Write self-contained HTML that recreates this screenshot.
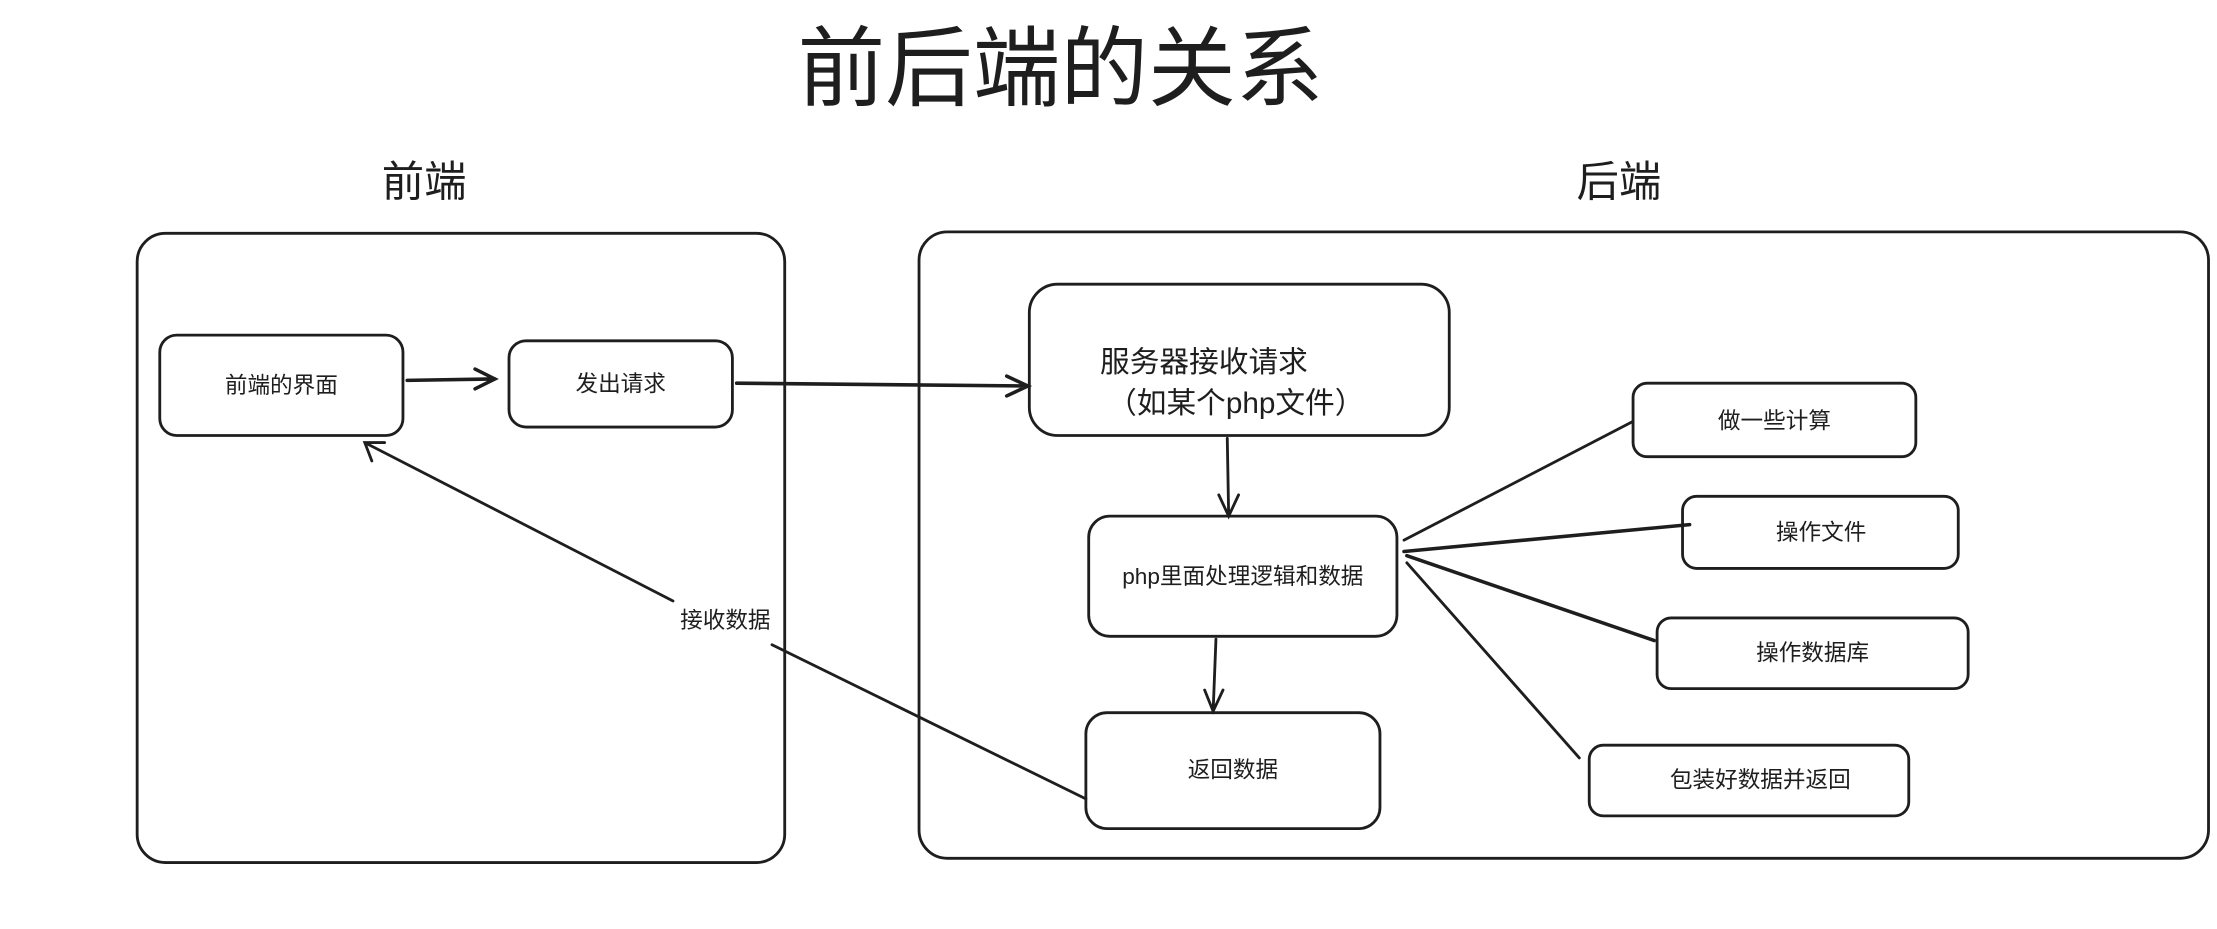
<!DOCTYPE html>
<html><head><meta charset="utf-8"><style>
html,body{margin:0;padding:0;background:#fff;}
svg{display:block;}
text{font-family:"Liberation Sans","Noto Sans CJK SC",sans-serif;fill:#1e1e1e;}
</style></head><body>
<svg width="2217" height="929" viewBox="0 0 1568 657" preserveAspectRatio="none" xmlns="http://www.w3.org/2000/svg">
<g fill="none" stroke="#1e1e1e" stroke-width="2" stroke-linecap="round">
<rect x="97" y="165" width="458" height="445" rx="20"/>
<rect x="650" y="164" width="912" height="443" rx="20"/>
<rect x="113" y="237" width="172" height="71" rx="12"/>
<rect x="360" y="241" width="158" height="61" rx="12"/>
<rect x="728" y="201" width="297" height="107" rx="20"/>
<rect x="770" y="365" width="218" height="85" rx="15"/>
<rect x="768" y="504" width="208" height="82" rx="15"/>
<rect x="1155" y="271" width="200" height="52" rx="10"/>
<rect x="1190" y="351" width="195" height="51" rx="10"/>
<rect x="1172" y="437" width="220" height="50" rx="10"/>
<rect x="1124" y="527" width="226" height="50" rx="10"/>
<path d="M288 269 L350 268 M336 261 L350 268 L336 275" stroke-width="2.5"/>
<path d="M521 271 L727 273 M712 266 L727 273 L712 280" stroke-width="2.5"/>
<path d="M868 310 L869 365 M862 350 L869 365 L876 350"/>
<path d="M860 452 L858 503 M852 488 L858 503 L865 488"/>
<path d="M1155 298 L993 382"/>
<path d="M993 390 L1195 371" stroke-width="2.5"/>
<path d="M995 393 L1170 453" stroke-width="2.5"/>
<path d="M995 398 L1117 536"/>
<path d="M768 565 L546 456"/>
<path d="M476 425 L258 313 M263 326 L258 313 L272 313"/>
</g>
<text x="750" y="70" font-size="62" text-anchor="middle">前后端的关系</text>
<text x="300" y="139" font-size="30" text-anchor="middle">前端</text>
<text x="1145" y="139" font-size="30" text-anchor="middle">后端</text>
<text x="199" y="278" font-size="16" text-anchor="middle">前端的界面</text>
<text x="439" y="277" font-size="16" text-anchor="middle">发出请求</text>
<text x="778" y="263" font-size="21">服务器接收请求</text>
<text x="783" y="292" font-size="21">（如某个php文件）</text>
<text x="879" y="413" font-size="16" text-anchor="middle">php里面处理逻辑和数据</text>
<text x="872" y="550" font-size="16" text-anchor="middle">返回数据</text>
<text x="1255" y="303" font-size="16" text-anchor="middle">做一些计算</text>
<text x="1288" y="382" font-size="16" text-anchor="middle">操作文件</text>
<text x="1282" y="467" font-size="16" text-anchor="middle">操作数据库</text>
<text x="1245" y="557" font-size="16" text-anchor="middle">包装好数据并返回</text>
<text x="513" y="444" font-size="16" text-anchor="middle">接收数据</text>
</svg>
</body></html>
